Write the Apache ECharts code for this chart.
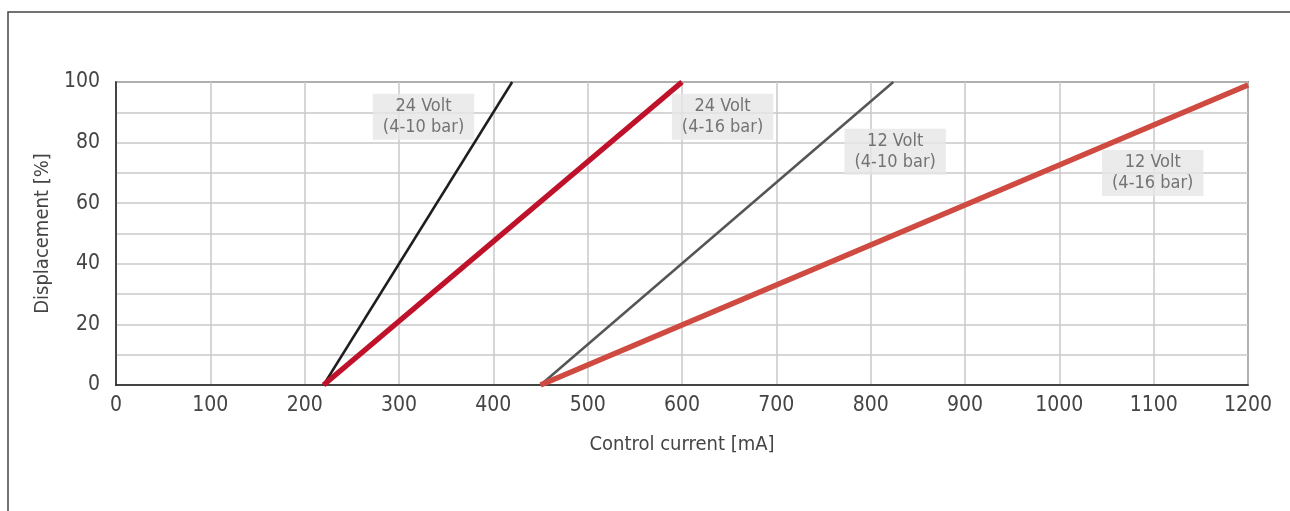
<!DOCTYPE html>
<html>
<head>
<meta charset="utf-8">
<script src="https://cdn.jsdelivr.net/npm/echarts@6/dist/echarts.min.js"></script>
<style>
 html,body{margin:0;padding:0;background:#fff;}
 #main{width:1290px;height:511px;}
</style>
</head>
<body>
<div id="main"></div>
<script>
// 数据: 控制电流 [mA] -> 位移 [%]
var line24v10 = [[220, 0], [420, 100]];
var line24v16 = [[220, 0], [600, 100]];
var line12v10 = [[450, 0], [824, 100]];
var line12v16 = [[450, 0], [1200, 99]];
// 标签位置 (数据坐标) 及文字
var labelNames = ['24 Volt\n(4-10 bar)', '24 Volt\n(4-16 bar)', '12 Volt\n(4-10 bar)', '12 Volt\n(4-16 bar)'];
var labelPos = [[326, 88.5], [643, 88.5], [826, 77], [1099, 70]];
var xTicks = [0, 1200, 100];
var yTicks = [0, 100, 10];

var font = '"DejaVu Sans Condensed", sans-serif';
var chart = echarts.init(document.getElementById('main'));

var labelData = [];
for (var i = 0; i < labelNames.length; i++) {
    labelData.push({ value: labelPos[i], name: labelNames[i] });
}

function lineSeries(name, data, color, width) {
    return {
        name: name,
        type: 'line',
        data: data,
        symbol: 'none',
        lineStyle: { color: color, width: width, cap: 'butt' },
        z: 3
    };
}

var option = {
    animation: false,
    backgroundColor: '#fff',
    textStyle: { fontFamily: font },
    graphic: [{
        type: 'polyline',
        shape: { points: [[8, 511], [8, 12], [1290, 12]] },
        style: { stroke: '#444', lineWidth: 1.5, fill: null }
    }],
    grid: {
        left: 116, top: 82, right: 42, bottom: 126,
        show: true, borderColor: '#333', borderWidth: 1.5
    },
    xAxis: {
        type: 'value',
        min: xTicks[0], max: xTicks[1], interval: xTicks[2],
        name: 'Control current [mA]',
        nameLocation: 'middle', nameGap: 50,
        nameTextStyle: { color: '#444', fontSize: 20, fontFamily: font },
        axisLine: { show: true, lineStyle: { color: '#222', width: 1.5 } },
        axisTick: { show: false },
        axisLabel: {
            color: '#444', fontSize: 21, margin: 10, fontFamily: font,
            formatter: function (v) { return String(v); }
        },
        splitLine: { show: true, lineStyle: { color: '#c8c8c8', width: 1.5 } }
    },
    yAxis: {
        type: 'value',
        min: yTicks[0], max: yTicks[1], interval: yTicks[2],
        name: 'Displacement [%]',
        nameLocation: 'middle', nameGap: 60,
        nameTextStyle: { color: '#444', fontSize: 20, fontFamily: font },
        axisLine: { show: true, lineStyle: { color: '#222', width: 1.5 } },
        axisTick: { show: false },
        axisLabel: {
            color: '#444', fontSize: 21, margin: 16, fontFamily: font,
            formatter: function (v) { return v % 20 === 0 ? String(v) : ''; }
        },
        splitLine: { show: true, lineStyle: { color: '#c8c8c8', width: 1.5 } }
    },
    series: [
        lineSeries('24 Volt (4-10 bar)', line24v10, '#1e1e1e', 2.5),
        lineSeries('24 Volt (4-16 bar)', line24v16, '#c0112b', 5.5),
        lineSeries('12 Volt (4-10 bar)', line12v10, '#555555', 2.5),
        lineSeries('12 Volt (4-16 bar)', line12v16, '#cf4a40', 5.5),
        {
            type: 'scatter',
            data: labelData,
            symbolSize: 0,
            z: 5,
            label: {
                show: true,
                position: 'inside',
                formatter: '{b}',
                color: '#555',
                fontSize: 18,
                lineHeight: 21,
                fontFamily: font,
                align: 'center',
                backgroundColor: '#e6e6e7',
                padding: [2, 10, 2, 10]
            }
        }
    ]
};
chart.setOption(option);
</script>
</body>
</html>
